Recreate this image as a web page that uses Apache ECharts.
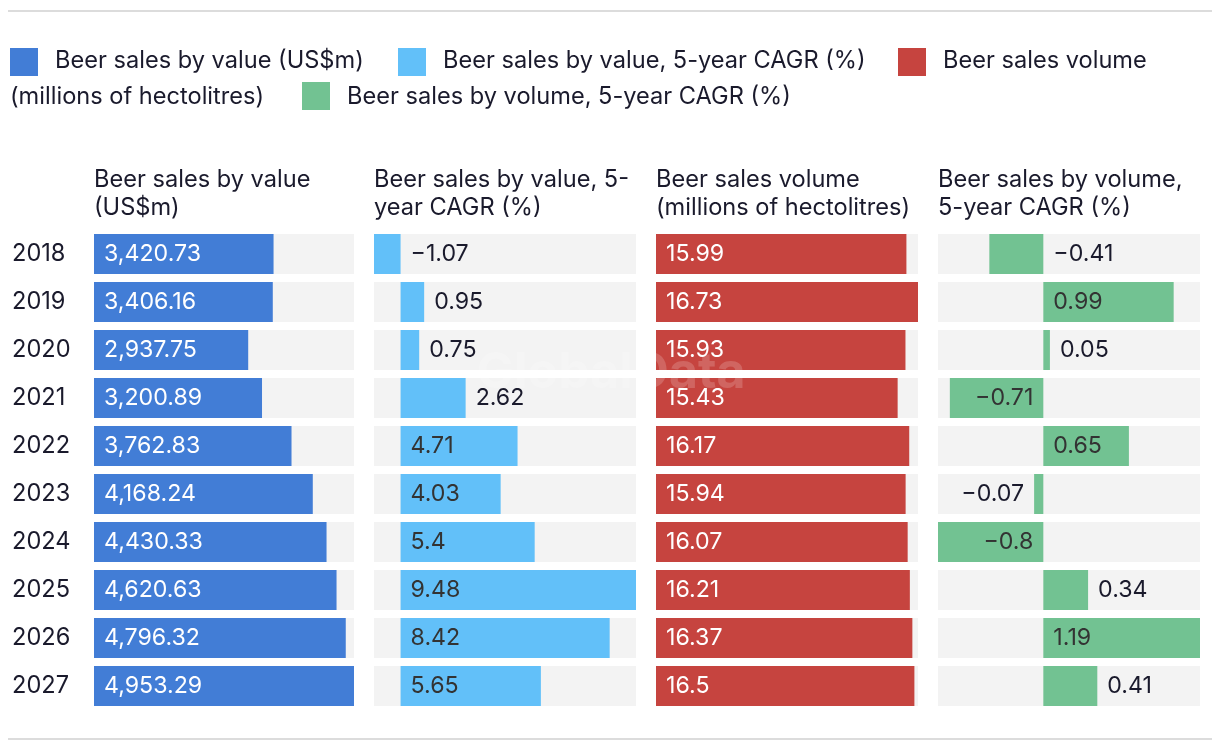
<!DOCTYPE html>
<html><head><meta charset="utf-8">
<script src="https://cdn.jsdelivr.net/npm/echarts@6/dist/echarts.min.js"></script>
<style>html,body{margin:0;padding:0;background:#fff}#c{width:1220px;height:752px}</style>
</head><body><div id="c"></div>
<script>
const years = ['2018','2019','2020','2021','2022','2023','2024','2025','2026','2027'];
const valueSales = [3420.73, 3406.16, 2937.75, 3200.89, 3762.83, 4168.24, 4430.33, 4620.63, 4796.32, 4953.29];
const valueCagr = [-1.07, 0.95, 0.75, 2.62, 4.71, 4.03, 5.4, 9.48, 8.42, 5.65];
const volumeSales = [15.99, 16.73, 15.93, 15.43, 16.17, 15.94, 16.07, 16.21, 16.37, 16.5];
const volumeCagr = [-0.41, 0.99, 0.05, -0.71, 0.65, -0.07, -0.8, 0.34, 1.19, 0.41];
const seriesNames = ['Beer sales by value (US$m)', 'Beer sales by value, 5-year CAGR (%)', 'Beer sales volume (millions of hectolitres)', 'Beer sales by volume, 5-year CAGR (%)'];
const panelTitles = ['Beer sales by value\n(US$m)', 'Beer sales by value, 5-\nyear CAGR (%)', 'Beer sales volume\n(millions of hectolitres)', 'Beer sales by volume,\n5-year CAGR (%)'];
const colors = ['#427dd6', '#62c0f9', '#c6443f', '#72c292'];

const FONT = 'Inter';
const FS = 23.6;
const LFS = 23.2;
const DARK = '#1a1a2c';
const panels = [
  {data: valueSales, left: 94, width: 260, inColor: '#fff', fmt: v => v.toLocaleString('en-US', {minimumFractionDigits: 2, maximumFractionDigits: 2})},
  {data: valueCagr, left: 374, width: 262, inColor: '#333'},
  {data: volumeSales, left: 656, width: 262, inColor: '#fff'},
  {data: volumeCagr, left: 938, width: 262, inColor: '#333'}
];
const fmtNum = v => (v < 0 ? '\u2212' + Math.abs(v) : String(v));

const chart = echarts.init(document.getElementById('c'), null, {renderer: 'canvas'});
const grids = [], xAxes = [], yAxes = [], series = [];
panels.forEach((p, k) => {
  const mn = Math.min(0, ...p.data), mx = Math.max(...p.data);
  const fmt = p.fmt || fmtNum;
  grids.push({left: p.left, width: p.width, top: 230, height: 480, containLabel: false});
  xAxes.push({type: 'value', gridIndex: k, min: mn, max: mx, show: false});
  yAxes.push({type: 'category', gridIndex: k, data: years, inverse: true,
    axisLine: {show: false}, axisTick: {show: false}, splitLine: {show: false},
    axisLabel: {show: k === 0, align: 'left', margin: 82, fontFamily: FONT, fontSize: FS, color: DARK}});
  const scale = p.width / (mx - mn);
  series.push({
    type: 'bar', name: seriesNames[k], xAxisIndex: k, yAxisIndex: k, barWidth: 40,
    itemStyle: {color: colors[k]},
    showBackground: true, backgroundStyle: {color: '#f3f3f3'},
    data: p.data.map(v => {
      const w = Math.abs(v) * scale;
      let pos, col;
      if (w >= 75) { pos = v >= 0 ? 'insideLeft' : 'insideRight'; col = p.inColor; }
      else if (v >= 0) { pos = 'right'; col = DARK; }
      else {
        const room = (0 - mn) * scale - w;
        pos = room >= 70 ? 'left' : 'right';
        col = DARK;
      }
      return {value: v, label: {show: true, position: pos, color: col, distance: 10,
        fontFamily: FONT, fontSize: LFS, formatter: () => fmt(v)}};
    })
  });
});

const txt = (x, y, t, extra) => Object.assign({type: 'text', x: x, y: y, style: Object.assign({text: t, fill: DARK, font: FS + 'px ' + FONT, verticalAlign: 'middle'}, extra || {})});
const graphic = [
  {type: 'line', shape: {x1: 8, y1: 11, x2: 1212, y2: 11}, style: {stroke: '#dcdcdc', lineWidth: 2}},
  {type: 'line', shape: {x1: 8, y1: 739, x2: 1212, y2: 739}, style: {stroke: '#dcdcdc', lineWidth: 2}},
  {type: 'rect', shape: {x: 10, y: 48, width: 28, height: 28}, style: {fill: colors[0]}},
  txt(55, 61, 'Beer sales by value (US$m)'),
  {type: 'rect', shape: {x: 398, y: 48, width: 28, height: 28}, style: {fill: colors[1]}},
  txt(443, 61, 'Beer sales by value, 5-year CAGR (%)'),
  {type: 'rect', shape: {x: 898, y: 48, width: 28, height: 28}, style: {fill: colors[2]}},
  txt(943, 61, 'Beer sales volume'),
  txt(10, 97, '(millions of hectolitres)'),
  {type: 'rect', shape: {x: 302, y: 82, width: 28, height: 28}, style: {fill: colors[3]}},
  txt(347, 97, 'Beer sales by volume, 5-year CAGR (%)')
];
panels.forEach((p, k) => {
  graphic.push({type: 'text', x: p.left, y: 166, style: {text: panelTitles[k], fill: DARK, font: FS + 'px ' + FONT, lineHeight: 28, verticalAlign: 'top'}});
});
graphic.push({type: 'text', x: 611, y: 373, z: 100, style: {text: 'GlobalData', fill: 'rgba(255,255,255,0.18)', font: 'bold 50px ' + FONT, align: 'center', verticalAlign: 'middle'}});

chart.setOption({
  animation: false,
  backgroundColor: '#fff',
  grid: grids, xAxis: xAxes, yAxis: yAxes, series: series, graphic: graphic
});
</script></body></html>
